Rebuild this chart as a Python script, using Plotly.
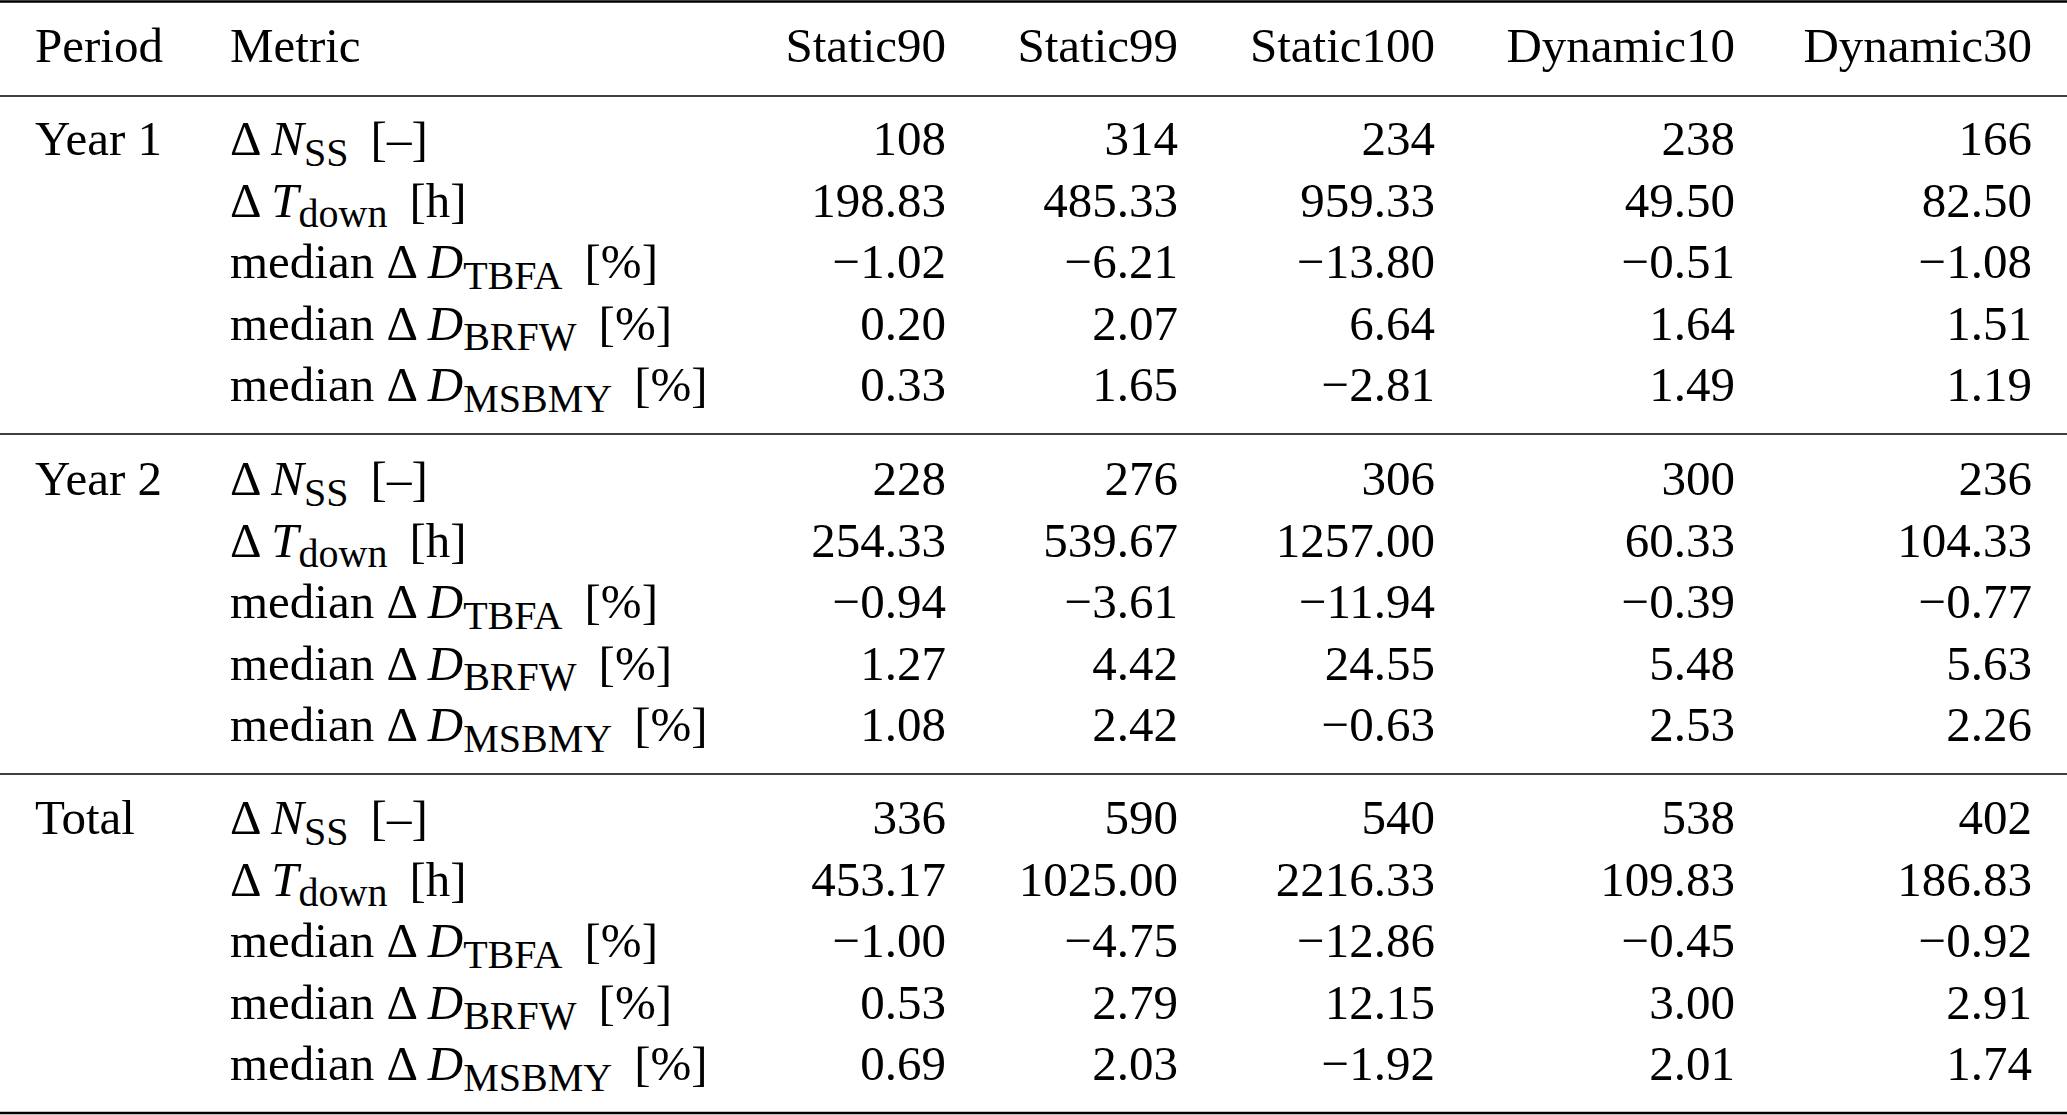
import plotly.graph_objects as go

# table content
periods = ["Year 1", "Year 2", "Total"]
subs = ["SS", "down", "TBFA", "BRFW", "MSBMY"]
symbols = ["N", "T", "D", "D", "D"]
prefixes = ["", "", "median ", "median ", "median "]
units = ["[–]", "[h]", "[%]", "[%]", "[%]"]
columns = ["Static90", "Static99", "Static100", "Dynamic10", "Dynamic30"]

static90 = ["108", "198.83", "−1.02", "0.20", "0.33",
            "228", "254.33", "−0.94", "1.27", "1.08",
            "336", "453.17", "−1.00", "0.53", "0.69"]
static99 = ["314", "485.33", "−6.21", "2.07", "1.65",
            "276", "539.67", "−3.61", "4.42", "2.42",
            "590", "1025.00", "−4.75", "2.79", "2.03"]
static100 = ["234", "959.33", "−13.80", "6.64", "−2.81",
             "306", "1257.00", "−11.94", "24.55", "−0.63",
             "540", "2216.33", "−12.86", "12.15", "−1.92"]
dynamic10 = ["238", "49.50", "−0.51", "1.64", "1.49",
             "300", "60.33", "−0.39", "5.48", "2.53",
             "538", "109.83", "−0.45", "3.00", "2.01"]
dynamic30 = ["166", "82.50", "−1.08", "1.51", "1.19",
             "236", "104.33", "−0.77", "5.63", "2.26",
             "402", "186.83", "−0.92", "2.91", "1.74"]

values = [static90, static99, static100, dynamic10, dynamic30]

# layout (pixel units)
W, H = 2067, 1115
FONT = dict(family="Liberation Serif, Times New Roman, serif", size=49, color="black")
SUB_SIZE = 40
header_y = 50
group_top = [143, 483, 822]
row_step = 61.5
period_x = 35
metric_x = 230
col_right = [946, 1178, 1435, 1735, 2032]

metrics = [
    f"{p}Δ\u2009<i>{s}</i><sub><span style='font-size:{SUB_SIZE}px'>{b}</span></sub>\u2009 {u}"
    for p, s, b, u in zip(prefixes, symbols, subs, units)
]
row_y = [g + i * row_step for g in group_top for i in range(len(metrics))]

fig = go.Figure()

# header
fig.add_trace(go.Scatter(x=[period_x, metric_x], y=[header_y, header_y], mode="text",
                         text=["Period", "Metric"], textposition="middle right",
                         textfont=FONT, hoverinfo="skip"))
fig.add_trace(go.Scatter(x=col_right, y=[header_y] * len(columns), mode="text",
                         text=columns, textposition="middle left",
                         textfont=FONT, hoverinfo="skip"))

# period labels and metric labels
fig.add_trace(go.Scatter(x=[period_x] * len(periods), y=group_top, mode="text",
                         text=periods, textposition="middle right",
                         textfont=FONT, hoverinfo="skip"))
fig.add_trace(go.Scatter(x=[metric_x] * len(row_y), y=row_y, mode="text",
                         text=metrics * len(periods), textposition="middle right",
                         textfont=FONT, hoverinfo="skip"))

# value columns
for xr, vals in zip(col_right, values):
    fig.add_trace(go.Scatter(x=[xr] * len(vals), y=row_y, mode="text",
                             text=vals, textposition="middle left",
                             textfont=FONT, hoverinfo="skip"))

# booktabs-style rules
rules = [(1.5, 2.5), (96, 1.6), (434, 1.6), (774, 1.6), (1113, 2.5)]
for ry, lw in rules:
    fig.add_shape(type="line", x0=0, x1=W, y0=ry, y1=ry,
                  line=dict(color="black", width=lw))

fig.update_layout(
    width=W, height=H,
    margin=dict(l=0, r=0, t=0, b=0),
    paper_bgcolor="white", plot_bgcolor="white",
    showlegend=False,
    xaxis=dict(range=[0, W], visible=False, fixedrange=True),
    yaxis=dict(range=[H, 0], visible=False, fixedrange=True),
)

# drop the default page margin so the figure sits at the window's corner
fig.write_html("out.html", config={"displayModeBar": False},
               post_script="document.body.style.margin='0';document.body.style.overflow='hidden';")
